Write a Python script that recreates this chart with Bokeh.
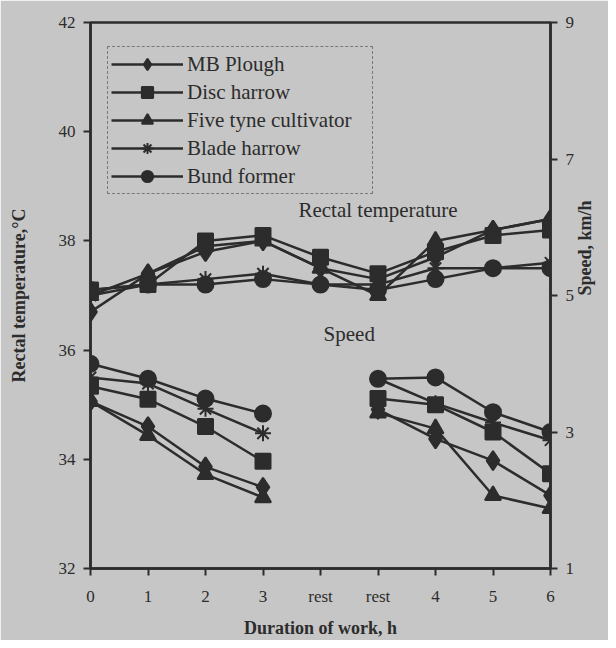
import math
from bokeh.plotting import figure
from bokeh.models import (Range1d, LinearAxis, FixedTicker, Legend, LegendItem, Label)
from bokeh.embed import file_html
from bokeh.resources import INLINE

# ---------------- data ----------------
x_labels = ["0", "1", "2", "3", "rest", "rest", "4", "5", "6"]
x_pos = list(range(len(x_labels)))

series_names = ["MB Plough", "Disc harrow", "Five tyne cultivator", "Blade harrow", "Bund former"]

# Rectal temperature, deg C (left axis)
temp_mb_plough = [36.7, 37.4, 37.8, 38.0, 37.5, 37.3, 37.7, 38.2, 38.4]
temp_disc_harrow = [37.1, 37.2, 38.0, 38.1, 37.7, 37.4, 37.8, 38.1, 38.2]
temp_five_tyne = [37.0, 37.4, 37.9, 38.0, 37.5, 37.0, 38.0, 38.2, 38.4]
temp_blade_harrow = [37.0, 37.2, 37.3, 37.4, 37.2, 37.2, 37.5, 37.5, 37.6]
temp_bund_former = [37.1, 37.2, 37.2, 37.3, 37.2, 37.1, 37.3, 37.5, 37.5]

# Speed, km/h (right axis); no value during rest
nan = float("nan")
speed_mb_plough = [3.45, 3.08, 2.49, 2.19, nan, 3.33, 2.90, 2.58, 2.07]
speed_disc_harrow = [3.67, 3.48, 3.08, 2.57, nan, 3.49, 3.40, 3.00, 2.39]
speed_five_tyne = [3.45, 2.95, 2.38, 2.04, nan, 3.28, 3.05, 2.07, 1.88]
speed_blade_harrow = [3.80, 3.71, 3.34, 2.98, nan, 3.78, 3.42, 3.14, 2.88]
speed_bund_former = [4.00, 3.78, 3.49, 3.27, nan, 3.78, 3.80, 3.29, 3.00]

temp_ticks = [32, 34, 36, 38, 40, 42]
speed_ticks = [1, 3, 5, 7, 9]

temps = [temp_mb_plough, temp_disc_harrow, temp_five_tyne, temp_blade_harrow, temp_bund_former]
speeds = [speed_mb_plough, speed_disc_harrow, speed_five_tyne, speed_blade_harrow, speed_bund_former]
markers = ["diamond", "square", "triangle", "asterisk", "circle"]
msizes = [19, 15, 16, 16, 16]

# ---------------- style ----------------
BG = "#c6c6c6"
INK = "#2c2c2c"
FONT = "Liberation Serif"

p = figure(width=608, height=640, output_backend="svg", toolbar_location=None,
           x_range=Range1d(0, 8), y_range=Range1d(32, 42),
           min_border_left=90, min_border_right=47, min_border_top=22, min_border_bottom=72)
p.background_fill_color = BG
p.border_fill_color = BG
p.outline_line_color = INK
p.outline_line_width = 2.5
p.xgrid.visible = False
p.ygrid.visible = False

p.extra_y_ranges = {"speed": Range1d(1, 9)}

def style_axis(ax):
    ax.axis_line_color = INK
    ax.axis_line_width = 2.5
    ax.major_tick_line_color = INK
    ax.major_tick_line_width = 2
    ax.major_tick_out = 7
    ax.major_tick_in = 0
    ax.minor_tick_line_color = None
    ax.major_label_text_font = FONT
    ax.major_label_text_font_size = "17px"
    ax.major_label_text_color = INK
    ax.axis_label_text_font = FONT
    ax.axis_label_text_font_size = "18px"
    ax.axis_label_text_font_style = "bold"
    ax.axis_label_text_color = INK

# x axis
xa = p.xaxis[0]
style_axis(xa)
xa.ticker = FixedTicker(ticks=x_pos)
xa.major_label_overrides = {i: s for i, s in enumerate(x_labels)}
xa.major_label_standoff = 11
xa.axis_label = "Duration of work, h"
xa.axis_label_standoff = 9

# left axis
ya = p.yaxis[0]
style_axis(ya)
ya.ticker = FixedTicker(ticks=temp_ticks)
ya.major_label_standoff = 8
ya.axis_label = "Rectal temperature,\u00b0C"
ya.axis_label_standoff = 27

# right axis
ra = LinearAxis(y_range_name="speed")
style_axis(ra)
ra.ticker = FixedTicker(ticks=speed_ticks)
ra.major_label_standoff = 8
ra.axis_label = "Speed, km/h"
ra.axis_label_standoff = 8
ra.axis_label_orientation = math.pi / 2
p.add_layout(ra, "right")

items = []
for name, t, s, m, ms in zip(series_names, temps, speeds, markers, msizes):
    lt = p.line(x_pos, t, line_color=INK, line_width=2.5)
    mt = p.scatter(x_pos, t, marker=m, size=ms, fill_color=INK, line_color=INK, line_width=2)
    p.line(x_pos, s, line_color=INK, line_width=2.5, y_range_name="speed")
    p.scatter(x_pos, s, marker=m, size=ms, fill_color=INK, line_color=INK, line_width=2,
              y_range_name="speed")
    items.append(LegendItem(label=name, renderers=[lt, mt]))

legend = Legend(items=items, location=(17, 374), orientation="vertical")
legend.background_fill_color = BG
legend.background_fill_alpha = 1
legend.border_line_color = INK
legend.border_line_width = 1
legend.border_line_dash = "2 2"
legend.label_text_font = FONT
legend.label_text_font_size = "21px"
legend.label_text_color = INK
legend.glyph_width = 72
legend.glyph_height = 28
legend.label_height = 28
legend.label_width = 182
legend.spacing = 0
legend.padding = 3
legend.margin = 0
legend.label_standoff = 4
p.add_layout(legend, "center")

p.add_layout(Label(x=5.0, y=38.56, text="Rectal temperature", text_font=FONT, text_font_size="21px",
                   text_color=INK, text_align="center", text_baseline="middle"))
p.add_layout(Label(x=4.5, y=36.3, text="Speed", text_font=FONT, text_font_size="21px",
                   text_color=INK, text_align="center", text_baseline="middle"))

open("out.html", "w").write(file_html(p, INLINE))
